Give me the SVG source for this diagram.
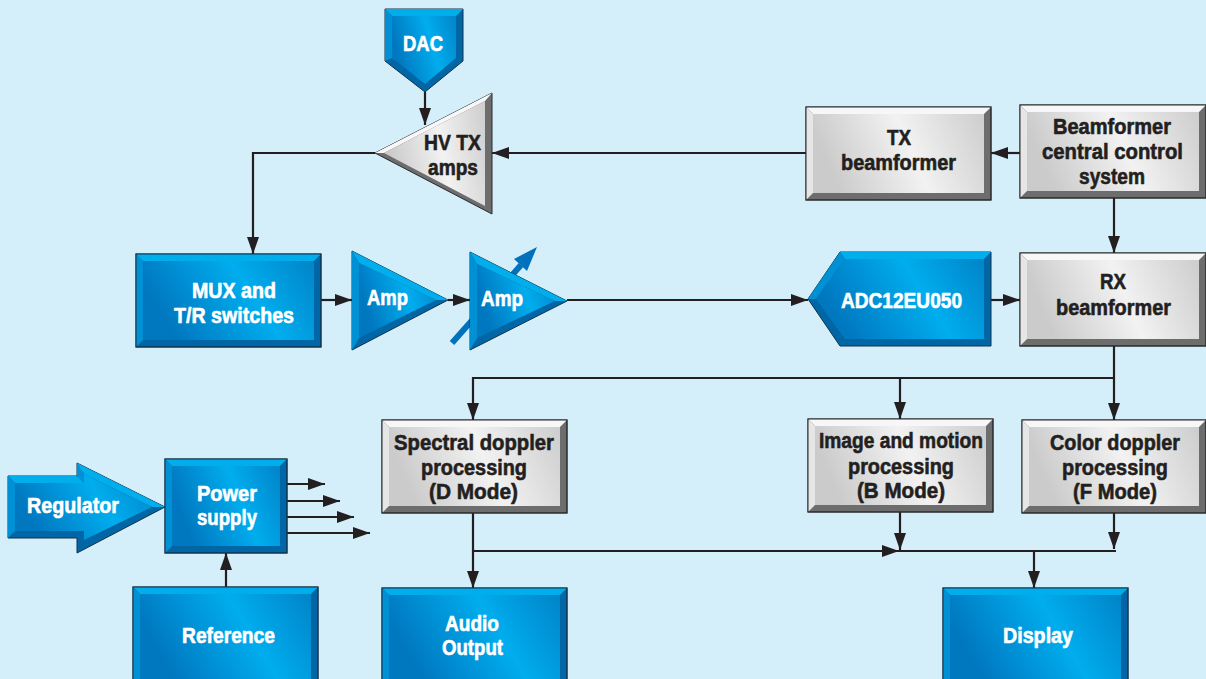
<svg xmlns="http://www.w3.org/2000/svg" width="1206" height="679" viewBox="0 0 1206 679">
<defs>
<linearGradient id="gBlue" x1="0" y1="0.3" x2="1" y2="0">
<stop offset="0" stop-color="#0078c0"/>
<stop offset="0.55" stop-color="#00adee"/>
<stop offset="1" stop-color="#0084c8"/>
</linearGradient>
<linearGradient id="gGray" x1="0" y1="0.2" x2="1" y2="0">
<stop offset="0" stop-color="#cbcbcb"/>
<stop offset="0.5" stop-color="#f2f2f2"/>
<stop offset="1" stop-color="#cdcdcd"/>
</linearGradient>
<marker id="ah" markerUnits="userSpaceOnUse" markerWidth="17" markerHeight="12" refX="17" refY="6" orient="auto">
<path d="M0,0 L17,6 L0,12 Z" fill="#231f20"/>
</marker>
<style>
.bo{fill:#0066a6;stroke:#13324a;stroke-width:1}
.bt{fill:#00aeec}
.bl{fill:#0090d4}
.bf{fill:url(#gBlue)}
.go{fill:#6d6d6d;stroke:#2a2a2a;stroke-width:1}
.gt{fill:#f7f7f7}
.gl{fill:#e6e6e6}
.gf{fill:url(#gGray)}
.ol{fill:none;stroke:#13324a;stroke-width:1}
.olg{fill:none;stroke:#2a2a2a;stroke-width:1}
text{font-family:"Liberation Sans",Arial,sans-serif;font-weight:bold;font-size:22px;text-anchor:middle;stroke-width:0.6;stroke-linejoin:round}
.wt{fill:#ffffff;stroke:#ffffff}
.dt{fill:#231f20;stroke:#231f20}
.c{fill:none;stroke:#231f20;stroke-width:2.2}
.ca{fill:none;stroke:#231f20;stroke-width:2.2;marker-end:url(#ah)}
</style>
</defs>
<rect x="0" y="0" width="1206" height="679" fill="#d4eefa"/>

<g id="connectors">
<path class="ca" d="M425,92 V125"/>
<path class="ca" d="M806,153 H492"/>
<path class="ca" d="M375,153 H253 V254"/>
<path class="ca" d="M321,300 H352"/>
<path class="ca" d="M448,300 H470"/>
<path class="ca" d="M567,300 H808"/>
<path class="ca" d="M991,300 H1020"/>
<path class="ca" d="M1020,153 H991"/>
<path class="ca" d="M1114,198 V253"/>
<path class="ca" d="M1114,346 V420"/>
<path class="ca" d="M1114,378 H473 V420"/>
<path class="ca" d="M900,378 V419"/>
<path class="ca" d="M473,513 V588"/>
<path class="ca" d="M473,551 H899"/>
<path class="c" d="M899,551 H1116"/>
<path class="ca" d="M900,512 V550"/>
<path class="ca" d="M1114,513 V549"/>
<path class="ca" d="M1034,551 V588"/>
<path class="ca" d="M226,587 V553"/>
<path class="ca" d="M287,484 H325"/>
<path class="ca" d="M287,501 H340"/>
<path class="ca" d="M287,517 H354"/>
<path class="ca" d="M287,533 H370"/>
</g>

<g id="dac">
<polygon class="bo" points="385,9 463,9 463,61 425,92 385,61"/>
<polygon class="bt" points="385,9 463,9 456,16 392,16"/>
<polygon class="bl" points="385,9 392,16 392,58 385,61"/>
<polygon class="bf" points="392,16 456,16 456,58 425,84 392,58"/>
<text class="wt" x="423" y="51" textLength="40" lengthAdjust="spacingAndGlyphs">DAC</text>
</g>

<g id="hvtx">
<polygon class="go" points="375,153 492,93 492,214"/>
<polygon class="gt" points="375,153 492,93 485,101 384,153"/>
<polygon class="gf" points="384,153 485,101 485,206"/>
<text class="dt" x="452.5" y="150" textLength="57" lengthAdjust="spacingAndGlyphs">HV TX</text>
<text class="dt" x="453" y="175" textLength="50" lengthAdjust="spacingAndGlyphs">amps</text>
</g>

<g id="mux">
<rect class="bo" x="136" y="254" width="185" height="93"/>
<polygon class="bt" points="136,254 321,254 314,261 143,261"/>
<polygon class="bl" points="136,254 143,261 143,340 136,347"/>
<rect class="bf" x="143" y="261" width="171" height="79"/>
<rect class="ol" x="136" y="254" width="185" height="93"/>
<text class="wt" x="234" y="298" textLength="84" lengthAdjust="spacingAndGlyphs">MUX and</text>
<text class="wt" x="234" y="323" textLength="120" lengthAdjust="spacingAndGlyphs">T/R switches</text>
</g>

<g id="amp1">
<polygon class="bo" points="352,251 448,300 352,350"/>
<polygon class="bt" points="352,251 448,300 436,300 359,263"/>
<polygon class="bl" points="352,251 359,263 359,338 352,350"/>
<polygon class="bf" points="359,263 436,300 359,338"/>
<text class="wt" x="387.5" y="305" textLength="41" lengthAdjust="spacingAndGlyphs">Amp</text>
</g>

<g id="amp2">
<path d="M452,343 L521,265" stroke="#0072bc" stroke-width="6" fill="none"/>
<polygon points="537,247 527,271 514,259" fill="#0072bc"/>
<polygon class="bo" points="470,252 567,301 470,350"/>
<polygon class="bt" points="470,252 567,301 555,301 477,264"/>
<polygon class="bl" points="470,252 477,264 477,338 470,350"/>
<polygon class="bf" points="477,264 555,301 477,338"/>
<text class="wt" x="502" y="306" textLength="42" lengthAdjust="spacingAndGlyphs">Amp</text>
</g>

<g id="adc">
<polygon class="bo" points="808,299 840,252 991,252 991,346 840,346"/>
<polygon class="bt" points="840,252 991,252 984,259 845,259"/>
<polygon class="bl" points="808,299 840,252 845,259 816,299"/>
<polygon class="bf" points="816,299 845,259 984,259 984,339 845,339"/>
<text class="wt" x="901.5" y="308" textLength="121" lengthAdjust="spacingAndGlyphs">ADC12EU050</text>
</g>

<g id="txbf">
<rect class="go" x="806" y="107" width="185" height="93"/>
<polygon class="gt" points="806,107 991,107 984,114 813,114"/>
<polygon class="gl" points="806,107 813,114 813,193 806,200"/>
<rect class="gf" x="813" y="114" width="171" height="79"/>
<rect class="olg" x="806" y="107" width="185" height="93"/>
<text class="dt" x="899" y="145" textLength="24" lengthAdjust="spacingAndGlyphs">TX</text>
<text class="dt" x="898.5" y="170" textLength="115" lengthAdjust="spacingAndGlyphs">beamformer</text>
</g>

<g id="bcc">
<rect class="go" x="1020" y="105" width="186" height="93"/>
<polygon class="gt" points="1020,105 1206,105 1199,112 1027,112"/>
<polygon class="gl" points="1020,105 1027,112 1027,191 1020,198"/>
<rect class="gf" x="1027" y="112" width="172" height="79"/>
<rect class="olg" x="1020" y="105" width="186" height="93"/>
<text class="dt" x="1112" y="134" textLength="118" lengthAdjust="spacingAndGlyphs">Beamformer</text>
<text class="dt" x="1112.5" y="159" textLength="141" lengthAdjust="spacingAndGlyphs">central control</text>
<text class="dt" x="1112" y="184" textLength="66" lengthAdjust="spacingAndGlyphs">system</text>
</g>

<g id="rxbf">
<rect class="go" x="1020" y="253" width="186" height="93"/>
<polygon class="gt" points="1020,253 1206,253 1199,260 1027,260"/>
<polygon class="gl" points="1020,253 1027,260 1027,339 1020,346"/>
<rect class="gf" x="1027" y="260" width="172" height="79"/>
<rect class="olg" x="1020" y="253" width="186" height="93"/>
<text class="dt" x="1113" y="289" textLength="26" lengthAdjust="spacingAndGlyphs">RX</text>
<text class="dt" x="1113.5" y="315" textLength="115" lengthAdjust="spacingAndGlyphs">beamformer</text>
</g>

<g id="spectral">
<rect class="go" x="382" y="420" width="185" height="93"/>
<polygon class="gt" points="382,420 567,420 560,427 389,427"/>
<polygon class="gl" points="382,420 389,427 389,506 382,513"/>
<rect class="gf" x="389" y="427" width="171" height="79"/>
<rect class="olg" x="382" y="420" width="185" height="93"/>
<text class="dt" x="474" y="450" textLength="160" lengthAdjust="spacingAndGlyphs">Spectral doppler</text>
<text class="dt" x="474" y="475" textLength="106" lengthAdjust="spacingAndGlyphs">processing</text>
<text class="dt" x="473.5" y="499" textLength="89" lengthAdjust="spacingAndGlyphs">(D Mode)</text>
</g>

<g id="image">
<rect class="go" x="808" y="419" width="185" height="93"/>
<polygon class="gt" points="808,419 993,419 986,426 815,426"/>
<polygon class="gl" points="808,419 815,426 815,505 808,512"/>
<rect class="gf" x="815" y="426" width="171" height="79"/>
<rect class="olg" x="808" y="419" width="185" height="93"/>
<text class="dt" x="901" y="448" textLength="164" lengthAdjust="spacingAndGlyphs">Image and motion</text>
<text class="dt" x="901" y="474" textLength="106" lengthAdjust="spacingAndGlyphs">processing</text>
<text class="dt" x="901" y="498" textLength="88" lengthAdjust="spacingAndGlyphs">(B Mode)</text>
</g>

<g id="color">
<rect class="go" x="1022" y="420" width="184" height="93"/>
<polygon class="gt" points="1022,420 1206,420 1199,427 1029,427"/>
<polygon class="gl" points="1022,420 1029,427 1029,506 1022,513"/>
<rect class="gf" x="1029" y="427" width="170" height="79"/>
<rect class="olg" x="1022" y="420" width="184" height="93"/>
<text class="dt" x="1115" y="450" textLength="130" lengthAdjust="spacingAndGlyphs">Color doppler</text>
<text class="dt" x="1115" y="475" textLength="106" lengthAdjust="spacingAndGlyphs">processing</text>
<text class="dt" x="1115" y="499" textLength="84" lengthAdjust="spacingAndGlyphs">(F Mode)</text>
</g>

<g id="audio">
<rect class="bo" x="382" y="588" width="185" height="100"/>
<polygon class="bt" points="382,588 567,588 560,595 389,595"/>
<polygon class="bl" points="382,588 389,595 389,681 382,688"/>
<rect class="bf" x="389" y="595" width="171" height="86"/>
<rect class="ol" x="382" y="588" width="185" height="100"/>
<text class="wt" x="472" y="631" textLength="54" lengthAdjust="spacingAndGlyphs">Audio</text>
<text class="wt" x="472.5" y="655" textLength="61" lengthAdjust="spacingAndGlyphs">Output</text>
</g>

<g id="display">
<rect class="bo" x="943" y="588" width="185" height="100"/>
<polygon class="bt" points="943,588 1128,588 1121,595 950,595"/>
<polygon class="bl" points="943,588 950,595 950,681 943,688"/>
<rect class="bf" x="950" y="595" width="171" height="86"/>
<rect class="ol" x="943" y="588" width="185" height="100"/>
<text class="wt" x="1038" y="643" textLength="70" lengthAdjust="spacingAndGlyphs">Display</text>
</g>

<g id="regulator">
<polygon class="bo" points="8,476 77,476 77,463 165,507 77,553 77,538 8,538"/>
<polygon class="bt" points="8,476 77,476 84,483 15,483"/>
<polygon class="bl" points="77,463 84,474 84,483 77,476"/>
<polygon class="bt" points="77,463 165,507 152,507 84,474"/>
<polygon class="bl" points="8,476 15,483 15,531 8,538"/>
<polygon class="bf" points="15,483 84,483 84,474 152,507 84,540 84,531 15,531"/>
<text class="wt" x="73" y="513" textLength="92" lengthAdjust="spacingAndGlyphs">Regulator</text>
</g>

<g id="power">
<rect class="bo" x="165" y="459" width="122" height="94"/>
<polygon class="bt" points="165,459 287,459 280,466 172,466"/>
<polygon class="bl" points="165,459 172,466 172,546 165,553"/>
<rect class="bf" x="172" y="466" width="108" height="80"/>
<rect class="ol" x="165" y="459" width="122" height="94"/>
<text class="wt" x="227" y="501" textLength="60" lengthAdjust="spacingAndGlyphs">Power</text>
<text class="wt" x="227" y="525" textLength="60" lengthAdjust="spacingAndGlyphs">supply</text>
</g>

<g id="reference">
<rect class="bo" x="133" y="587" width="185" height="100"/>
<polygon class="bt" points="133,587 318,587 311,594 140,594"/>
<polygon class="bl" points="133,587 140,594 140,680 133,687"/>
<rect class="bf" x="140" y="594" width="171" height="86"/>
<rect class="ol" x="133" y="587" width="185" height="100"/>
<text class="wt" x="228.5" y="643" textLength="93" lengthAdjust="spacingAndGlyphs">Reference</text>
</g>
</svg>
